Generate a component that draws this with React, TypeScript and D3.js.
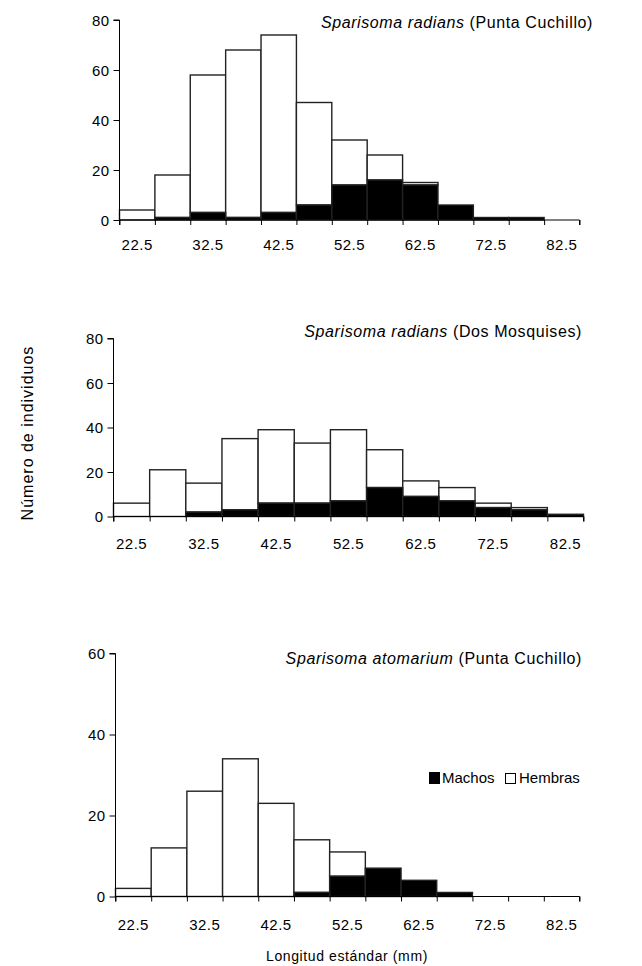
import React, { useEffect, useRef } from "react";
import * as d3 from "d3";

// bin centres (mm), 5 mm classes
const binCenters = [22.5, 27.5, 32.5, 37.5, 42.5, 47.5, 52.5, 57.5, 62.5, 67.5, 72.5, 77.5, 82.5];
const xTickLabels = ["22.5", "32.5", "42.5", "52.5", "62.5", "72.5", "82.5"];

// Sparisoma radians (Punta Cuchillo)
const pcMachos = [0, 1, 3, 1, 3, 6, 14, 16, 14, 6, 1, 1, 0];
const pcHembras = [4, 17, 55, 67, 71, 41, 18, 10, 1, 0, 0, 0, 0];

// Sparisoma radians (Dos Mosquises)
const dmMachos = [0, 0, 2, 3, 6, 6, 7, 13, 9, 7, 4, 3, 1];
const dmHembras = [6, 21, 13, 32, 33, 27, 32, 17, 7, 6, 2, 1, 0];

// Sparisoma atomarium (Punta Cuchillo)
const atMachos = [0, 0, 0, 0, 0, 1, 5, 7, 4, 1, 0, 0, 0];
const atHembras = [2, 12, 26, 34, 23, 13, 6, 0, 0, 0, 0, 0, 0];

const yTicks80 = [0, 20, 40, 60, 80];
const yTicks60 = [0, 20, 40, 60];

const FONT = "'Liberation Sans', Arial, sans-serif";

const panels = [
  { species: "Sparisoma radians", site: "(Punta Cuchillo)", machos: pcMachos, hembras: pcHembras,
    yMax: 80, yTicks: yTicks80, left: 119.5, right: 579.5, bottom: 220, top: 20,
    titleY: 28, titleX: 593, labelDy: 30, legend: false },
  { species: "Sparisoma radians", site: "(Dos Mosquises)", machos: dmMachos, hembras: dmHembras,
    yMax: 80, yTicks: yTicks80, left: 113.5, right: 583.5, bottom: 516.5, top: 338.5,
    titleY: 337, titleX: 582, labelDy: 32, legend: false },
  { species: "Sparisoma atomarium", site: " (Punta Cuchillo)", machos: atMachos, hembras: atHembras,
    yMax: 60, yTicks: yTicks60, left: 115.5, right: 579.5, bottom: 896.5, top: 653.5,
    titleY: 664, titleX: 582, labelDy: 33, legend: true },
];

function App() {
  const chart = useRef(null);

  function drawChart() {
    const svg = d3.select(chart.current);
    svg.selectAll("*").remove();

    panels.forEach((p) => {
      const x = d3.scaleLinear().domain([20, 85]).range([p.left, p.right]);
      const y = d3.scaleLinear().domain([0, p.yMax]).range([p.bottom, p.top]);
      const g = svg.append("g");

      const rows = binCenters.map((c, i) => ({ c, m: p.machos[i], h: p.hembras[i] }));

      // hembras (white, stacked above machos)
      g.selectAll(".h")
        .data(rows.filter((d) => d.h > 0))
        .enter()
        .append("rect")
        .attr("x", (d) => x(d.c - 2.5))
        .attr("width", (d) => x(d.c + 2.5) - x(d.c - 2.5))
        .attr("y", (d) => y(d.m + d.h))
        .attr("height", (d) => y(d.m) - y(d.m + d.h))
        .style("fill", "#fff")
        .style("stroke", "#222")
        .style("stroke-width", 1.4);

      g.selectAll(".m")
        .data(rows.filter((d) => d.m > 0))
        .enter()
        .append("rect")
        .attr("x", (d) => x(d.c - 2.5))
        .attr("width", (d) => x(d.c + 2.5) - x(d.c - 2.5))
        .attr("y", (d) => y(d.m))
        .attr("height", (d) => y(0) - y(d.m))
        .style("fill", "#000")
        .style("stroke", "#222")
        .style("stroke-width", 1.4);

      // y axis
      const yAxis = d3.axisLeft(y).tickValues(p.yTicks).tickSize(6).tickPadding(4).tickFormat(d3.format("d"));
      const ya = g.append("g").attr("transform", "translate(" + p.left + ",0)").call(yAxis);
      ya.select(".domain").attr("stroke", "#000").attr("d", "M-6," + p.top + "H0V" + p.bottom);
      ya.selectAll("text")
        .style("font-family", FONT)
        .style("font-size", "15px")
        .style("letter-spacing", "0.4px")
        .attr("fill", "#000")
        .attr("dy", "0.36em");

      // x axis: ticks at bin edges, labels at every other centre
      const edges = d3.range(20, 86, 5);
      const xAxis = d3.axisBottom(x).tickValues(edges).tickSize(5).tickFormat(() => "");
      const xa = g.append("g").attr("transform", "translate(0," + p.bottom + ")").call(xAxis);
      xa.select(".domain").attr("stroke", "#000").attr("d", "M" + p.left + ",5V0H" + p.right + "V5");

      g.selectAll(".xl")
        .data(xTickLabels)
        .enter()
        .append("text")
        .attr("x", (d) => x(+d))
        .attr("y", p.bottom + p.labelDy)
        .attr("text-anchor", "middle")
        .style("font-family", FONT)
        .style("font-size", "15px")
        .style("letter-spacing", "0.5px")
        .text((d) => d);

      // title
      const t = g.append("text")
        .attr("x", p.titleX)
        .attr("y", p.titleY)
        .attr("text-anchor", "end")
        .style("font-family", FONT)
        .style("font-size", "16px")
        .style("letter-spacing", "0.6px");
      t.append("tspan").style("font-style", "italic").text(p.species);
      t.append("tspan").text(" " + p.site);

      if (p.legend) {
        const lg = g.append("g").attr("transform", "translate(429,772)");
        lg.append("rect").attr("width", 11).attr("height", 12).attr("fill", "#000");
        lg.append("text").attr("x", 13).attr("y", 11)
          .style("font-family", FONT).style("font-size", "15px").text("Machos");
        lg.append("rect").attr("x", 76.5).attr("y", 1.5).attr("width", 10).attr("height", 10)
          .attr("fill", "#fff").attr("stroke", "#000");
        lg.append("text").attr("x", 90).attr("y", 11)
          .style("font-family", FONT).style("font-size", "15px").text("Hembras");
      }
    });

    svg.append("text")
      .attr("transform", "translate(33,433) rotate(-90)")
      .attr("text-anchor", "middle")
      .style("font-family", FONT)
      .style("font-size", "16px")
      .style("letter-spacing", "1px")
      .text("Número de individuos");

    svg.append("text")
      .attr("x", 347)
      .attr("y", 961)
      .attr("text-anchor", "middle")
      .style("font-family", FONT)
      .style("font-size", "14px")
      .style("letter-spacing", "0.6px")
      .text("Longitud estándar (mm)");
  }

  useEffect(() => {
    drawChart();
  }, []);

  return (
    <svg
      ref={chart}
      width={642}
      height={966}
      style={{ position: "absolute", left: 0, top: 0, background: "#fff" }}
    ></svg>
  );
}

export default App;
